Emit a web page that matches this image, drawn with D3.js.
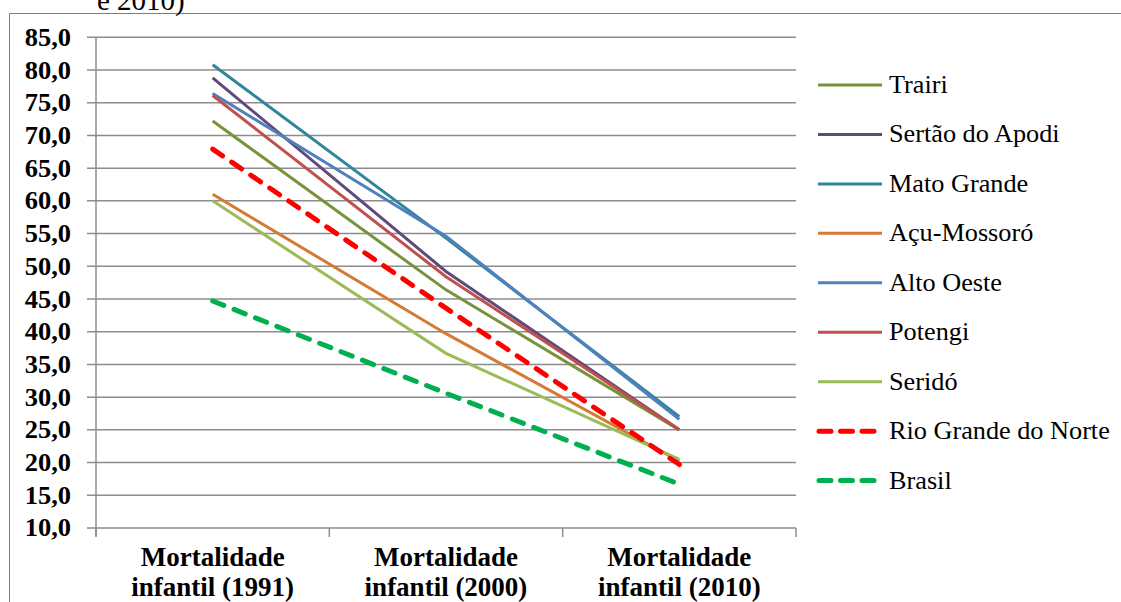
<html><head><meta charset="utf-8"><script src="https://cdn.jsdelivr.net/npm/d3@7"></script></head>
<body style="margin:0">
<svg id="chart" width="1121" height="602" font-family="Liberation Serif"></svg>
<script>
// ---- data ----
const categories = ["Mortalidade infantil (1991)", "Mortalidade infantil (2000)", "Mortalidade infantil (2010)"];
const seriesNames = ["Trairi", "Sertão do Apodi", "Mato Grande", "Açu-Mossoró", "Alto Oeste", "Potengi", "Seridó", "Rio Grande do Norte", "Brasil"];
const trairi     = [72.2, 46.4, 25.0];
const sertao     = [78.8, 49.2, 25.0];
const matoGrande = [80.8, 54.3, 27.0];
const acu        = [61.0, 39.7, 20.2];
const altoOeste  = [76.4, 54.6, 26.6];
const potengi    = [76.1, 48.4, 25.0];
const serido     = [60.0, 36.7, 20.5];
const rn         = [67.9, 43.6, 19.7];
const brasil     = [44.7, 30.6, 16.7];
const yTicks = [10, 15, 20, 25, 30, 35, 40, 45, 50, 55, 60, 65, 70, 75, 80, 85];

(function () {
const FONT = "Liberation Serif";
const seriesValues = [trairi, sertao, matoGrande, acu, altoOeste, potengi, serido, rn, brasil];
const colors = ["#77933C", "#604A7B", "#31859C", "#D47A34", "#4F81BD", "#C0504D", "#9BBB59", "#FF0000", "#00B050"];
const dashed = [false, false, false, false, false, false, false, true, true];

const series = seriesNames.map((n, i) => ({ name: n, values: seriesValues[i], color: colors[i], dashed: dashed[i] }));

const svg = d3.select("#chart");

// outer frame (partially visible)
svg.append("path")
  .attr("d", "M9.5,602 V13.5 H1121")
  .attr("fill", "none").attr("stroke", "#7f7f7f").attr("stroke-width", 1);

// cut-off title fragment (the reference shows only the tail of the title, clipped at the top)
svg.append("text")
  .attr("x", 97).attr("y", 10)
  .attr("font-family", FONT)
  .style("font-family", FONT)
  .style("font-size", "29px")
  .text("e 2010)");

const pLeft = 96, pRight = 796, pTop = 37.3, pBottom = 528;

const x = d3.scalePoint().domain(categories).range([pLeft, pRight]).padding(0.5);
const y = d3.scaleLinear().domain([10, 85]).range([pBottom, pTop]);

// gridlines
svg.append("g").selectAll("line").data(yTicks).join("line")
  .attr("x1", pLeft - 9).attr("x2", pRight)
  .attr("y1", d => y(d)).attr("y2", d => y(d))
  .attr("stroke", "#8c8c8c").attr("stroke-width", 1.5);

// y axis line
svg.append("line").attr("x1", pLeft).attr("x2", pLeft).attr("y1", pTop).attr("y2", pBottom + 8)
  .attr("stroke", "#8c8c8c").attr("stroke-width", 1.5);

// x tick marks at band boundaries
const bandW = (pRight - pLeft) / categories.length;
const xTickPos = d3.range(categories.length + 1).map(i => pLeft + i * bandW);
svg.append("g").selectAll("line").data(xTickPos).join("line")
  .attr("x1", d => d).attr("x2", d => d)
  .attr("y1", pBottom).attr("y2", pBottom + 9)
  .attr("stroke", "#8c8c8c").attr("stroke-width", 1.5);

// y tick labels
const fmt = d => d3.format(".1f")(d).replace(".", ",");
yTicks.forEach(d => {
  svg.append("text")
    .attr("x", 71 / 1.06).attr("y", y(d) + 8.5)
    .attr("transform", "scale(1.06,1)")
    .attr("text-anchor", "end")
    .attr("font-family", FONT)
    .style("font-family", FONT)
    .style("font-weight", "bold")
    .style("font-size", "25px")
    .text(fmt(d));
});

// x labels (two lines)
categories.forEach(d => {
  const idx = d.indexOf(" ");
  const lines = [d.slice(0, idx), d.slice(idx + 1)];
  lines.forEach((l, i) => {
    svg.append("text")
      .attr("x", x(d)).attr("y", 566 + i * 29.5)
      .attr("text-anchor", "middle")
      .attr("font-family", FONT)
      .style("font-family", FONT)
      .style("font-weight", "bold")
      .style("font-size", "27px")
      .text(l);
  });
});

// lines
const line = d3.line().x((v, i) => x(categories[i])).y(v => y(v));
svg.append("g").selectAll("path").data(series).join("path")
  .attr("d", d => line(d.values))
  .attr("fill", "none")
  .attr("stroke", d => d.color)
  .attr("stroke-width", d => d.dashed ? 5 : 3)
  .attr("stroke-dasharray", d => d.dashed ? "12,11" : null)
  .attr("stroke-linecap", d => d.dashed ? "round" : "butt");

// legend
const legY0 = 85, legStep = 49.45;
series.forEach((d, i) => {
  const ly = legY0 + i * legStep;
  svg.append("line")
    .attr("x1", d.dashed ? 819 : 818).attr("x2", d.dashed ? 874 : 882)
    .attr("y1", ly).attr("y2", ly)
    .attr("stroke", d.color)
    .attr("stroke-width", d.dashed ? 5 : 3)
    .attr("stroke-dasharray", d.dashed ? "12,9.5" : null)
    .attr("stroke-linecap", d.dashed ? "round" : "butt");
  svg.append("text")
    .attr("x", 889 / 1.05).attr("y", ly + 8)
    .attr("transform", "scale(1.05,1)")
    .attr("font-family", FONT)
    .style("font-family", FONT)
    .style("font-size", "25px")
    .text(d.name);
});
})();
</script>
</body></html>
